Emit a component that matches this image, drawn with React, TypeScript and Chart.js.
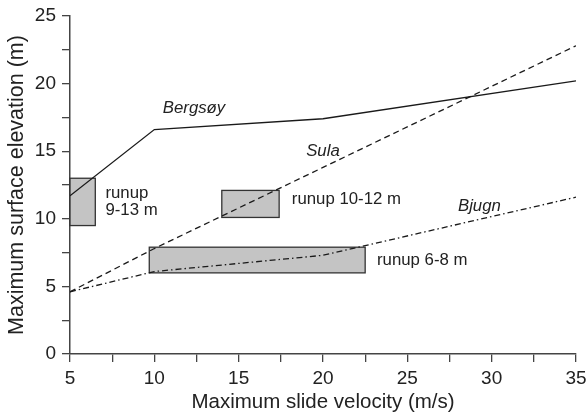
import React, { useEffect, useRef } from "react";
import { Chart, registerables } from "chart.js";

Chart.register(...registerables);

const bergsoyX = [5, 10, 20, 35];
const bergsoyY = [11.7, 16.6, 17.4, 20.2];
const sulaX = [5, 10, 20, 30, 35];
const sulaY = [4.6, 7.8, 13.8, 19.8, 22.8];
const bjugnX = [5, 10, 20, 35];
const bjugnY = [4.6, 6.1, 7.3, 11.6];

const boxX0 = [5, 14, 9.7];
const boxX1 = [6.5, 17.4, 22.5];
const boxY0 = [9.5, 10.1, 6.0];
const boxY1 = [13, 12.1, 7.9];

const labelTexts = ["Bergsøy", "Sula", "Bjugn", "runup", "9-13 m", "runup 10-12 m", "runup 6-8 m"];
const labelX = [10.5, 19.0, 28.0, 7.1, 7.1, 18.15, 23.2];
const labelY = [18.2, 15.0, 10.9, 11.9, 10.6, 11.45, 6.95];
const labelItalic = [true, true, true, false, false, false, false];

const FONT = "'Liberation Sans', Arial, sans-serif";

const toPts = (xs: number[], ys: number[]) => xs.map((x, i) => ({ x, y: ys[i] }));

const boxesPlugin = {
  id: "boxes",
  beforeDatasetsDraw(chart: any) {
    const { ctx, scales } = chart;
    const xs = scales.x, ys = scales.y;
    ctx.save();
    for (let i = 0; i < boxX0.length; i++) {
      const x0 = xs.getPixelForValue(boxX0[i]);
      const x1 = xs.getPixelForValue(boxX1[i]);
      const y0 = ys.getPixelForValue(boxY0[i]);
      const y1 = ys.getPixelForValue(boxY1[i]);
      ctx.fillStyle = "#c4c4c4";
      ctx.fillRect(x0, y1, x1 - x0, y0 - y1);
      ctx.strokeStyle = "#333";
      ctx.lineWidth = 1.3;
      ctx.strokeRect(x0, y1, x1 - x0, y0 - y1);
    }
    ctx.restore();
  },
  afterDatasetsDraw(chart: any) {
    const { ctx, scales } = chart;
    ctx.save();
    ctx.fillStyle = "#222";
    ctx.textBaseline = "middle";
    ctx.textAlign = "left";
    for (let i = 0; i < labelTexts.length; i++) {
      ctx.font = (labelItalic[i] ? "italic " : "") + "16.8px " + FONT;
      ctx.fillText(labelTexts[i], scales.x.getPixelForValue(labelX[i]), scales.y.getPixelForValue(labelY[i]));
    }
    ctx.restore();
  },
};

export default function App() {
  const ref = useRef<HTMLCanvasElement>(null);
  useEffect(() => {
    document.body.style.margin = "0";
    const lineStyle = { borderColor: "#1a1a1a", borderWidth: 1.3, pointRadius: 0, showLine: true, fill: false, tension: 0 };
    const chart = new Chart(ref.current!, {
      type: "scatter",
      data: {
        datasets: [
          { label: "Bergsøy", data: toPts(bergsoyX, bergsoyY), ...lineStyle },
          { label: "Sula", data: toPts(sulaX, sulaY), ...lineStyle, borderDash: [6, 4] },
          { label: "Bjugn", data: toPts(bjugnX, bjugnY), ...lineStyle, borderDash: [6, 3, 1.5, 3] },
        ],
      },
      options: {
        animation: false,
        responsive: false,
        layout: { padding: { top: 16, right: 12, left: 0, bottom: 0 } },
        plugins: { legend: { display: false }, tooltip: { enabled: false } },
        scales: {
          x: {
            type: "linear",
            min: 5,
            max: 35,
            afterFit: (s: any) => { s.height = 62; s.paddingRight = 0; s.paddingLeft = 0; },
            border: { display: true, color: "#444", width: 1.5 },
            grid: { display: true, drawOnChartArea: false, drawTicks: true, tickLength: 8, color: "#444", lineWidth: 1.3 },
            ticks: {
              stepSize: 2.5,
              autoSkip: false,
              maxRotation: 0,
              padding: 5,
              color: "#222",
              font: { family: FONT, size: 19 },
              callback: (v: any) => (Number(v) % 5 === 0 ? String(v) : ""),
            },
            title: { display: true, text: "Maximum slide velocity (m/s)", color: "#222", font: { family: FONT, size: 20.5 }, padding: { top: 0, bottom: 1 } },
          },
          y: {
            type: "linear",
            min: 0,
            max: 25,
            afterFit: (s: any) => { s.width = 70; s.paddingTop = 0; s.paddingBottom = 0; },
            border: { display: true, color: "#444", width: 1.5 },
            grid: { display: true, drawOnChartArea: false, drawTicks: true, tickLength: 8, color: "#444", lineWidth: 1.3 },
            ticks: {
              stepSize: 2.5,
              autoSkip: false,
              padding: 6,
              color: "#222",
              font: { family: FONT, size: 19 },
              callback: (v: any) => (Number(v) % 5 === 0 ? String(v) : ""),
            },
            title: { display: true, text: "Maximum surface elevation (m)", color: "#222", font: { family: FONT, size: 21.5 }, padding: { top: 4, bottom: 0 } },
          },
        },
      },
      plugins: [boxesPlugin],
    });
    return () => chart.destroy();
  }, []);
  return (
    <div style={{ width: 588, height: 416, background: "#fff" }}>
      <canvas ref={ref} width={588} height={416} style={{ display: "block" }} />
    </div>
  );
}
